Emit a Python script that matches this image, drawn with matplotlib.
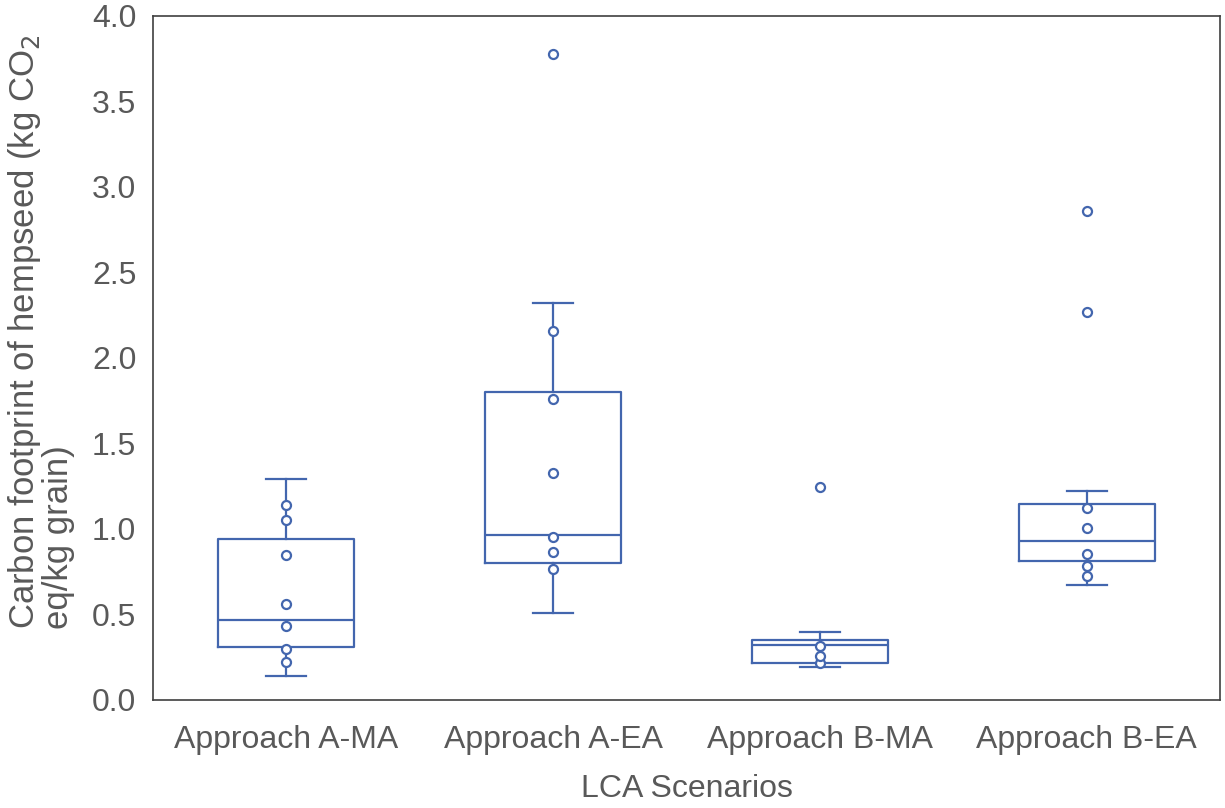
import matplotlib.pyplot as plt

plt.rcParams['font.family'] = ['Liberation Sans', 'DejaVu Sans']

scenarios = ['Approach A-MA', 'Approach A-EA', 'Approach B-MA', 'Approach B-EA']

# box statistics
whisker_lo = [0.14, 0.51, 0.195, 0.675]
q1 = [0.31, 0.80, 0.215, 0.815]
median = [0.47, 0.965, 0.322, 0.928]
q3 = [0.94, 1.80, 0.35, 1.148]
whisker_hi = [1.29, 2.32, 0.395, 1.222]

# inner points and outliers
inner_points = [
    [0.22, 0.30, 0.43, 0.56, 0.85, 1.05, 1.14],
    [0.765, 0.865, 0.955, 1.33, 1.76, 2.16],
    [0.215, 0.26, 0.315],
    [0.725, 0.785, 0.855, 1.005, 1.125],
]
outliers = [[], [3.78], [1.245], [2.27, 2.86]]

blue = '#4366AE'
grey = '#595959'

fig = plt.figure(figsize=(12.25, 8.08), dpi=100)
ax = fig.add_axes([0.1249, 0.1337, 0.871, 0.8465])

stats = []
for i, name in enumerate(scenarios):
    stats.append({'label': name, 'whislo': whisker_lo[i], 'q1': q1[i],
                  'med': median[i], 'q3': q3[i], 'whishi': whisker_hi[i],
                  'fliers': []})

line = dict(color=blue, linewidth=1.6)
ax.bxp(stats, positions=range(len(scenarios)), widths=0.51,
       boxprops=line, whiskerprops=line, capprops=line, medianprops=line,
       capwidths=0.15, showfliers=False)

for i in range(len(scenarios)):
    pts = inner_points[i] + outliers[i]
    ax.plot([i] * len(pts), pts, 'o', mfc='white', mec=blue, mew=1.6,
            ms=6.5, linestyle='none', zorder=3)

ax.set_xlim(-0.5, 3.5)
ax.set_ylim(0, 4.0)
ax.set_yticks([0, 0.5, 1.0, 1.5, 2.0, 2.5, 3.0, 3.5, 4.0])
ax.set_yticklabels(['%.1f' % v for v in ax.get_yticks()])
ax.set_xticks(range(len(scenarios)))
ax.set_xticklabels(scenarios)
ax.tick_params(length=0, labelsize=23, labelcolor=grey)
ax.tick_params(axis='x', pad=18)
ax.tick_params(axis='y', pad=12)

for s in ax.spines.values():
    s.set_color('#404040')
    s.set_linewidth(1.2)

ax.set_xlabel('LCA Scenarios', fontsize=23, color=grey, labelpad=14)
fig.text(0.005, 0.589, 'Carbon footprint of hempseed (kg CO$_2$\neq/kg grain)',
         rotation=90, fontsize=25, color=grey, va='center', ha='left',
         multialignment='left', linespacing=0.95)

fig.savefig('out.png', dpi=100)
